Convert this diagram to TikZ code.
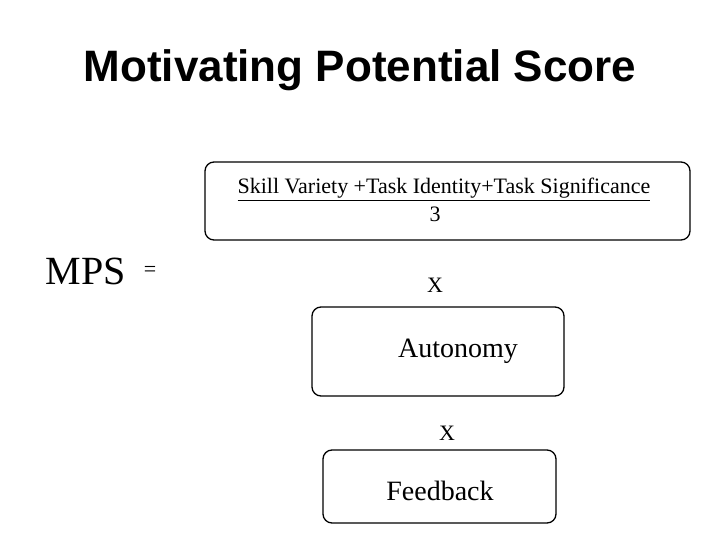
\documentclass[tikz,border=0pt]{standalone}
\usepackage{fontspec}
\setmainfont{Liberation Serif}
\newfontfamily\titlefont{Liberation Sans}
\begin{document}
\begin{tikzpicture}[x=1pt,y=-1pt,
  rbox/.style={draw,line width=1.3pt,rounded corners=9pt},
  txt/.style={inner sep=0pt,anchor=base}]
\useasboundingbox (0,0) rectangle (720,540);
\node[txt] (title) at (360,82) {\titlefont\bfseries\fontsize{44}{50}\selectfont Motivating Potential Score};
\draw[rbox] (205,162) rectangle (690,240);
\node[txt] (sum) at (444,194) {\fontsize{22}{26}\selectfont\underline{Skill Variety +Task Identity+Task Significance}};
\node[txt] (three) at (435,222) {\fontsize{22}{26}\selectfont 3};
\node[txt] (mps) at (86,284) {\fontsize{40}{46}\selectfont MPS};
\node[txt] (eq) at (150,276) {\fontsize{22}{26}\selectfont =};
\node[txt] (x1) at (435,292) {\fontsize{22}{26}\selectfont X};
\draw[rbox] (312,307) rectangle (564,396);
\node[txt] (aut) at (458,357) {\fontsize{28}{32}\selectfont Autonomy};
\node[txt] (x2) at (447,440) {\fontsize{22}{26}\selectfont X};
\draw[rbox] (323,450) rectangle (556,523);
\node[txt] (fb) at (440,500) {\fontsize{28}{32}\selectfont Feedback};
\end{tikzpicture}
\end{document}
